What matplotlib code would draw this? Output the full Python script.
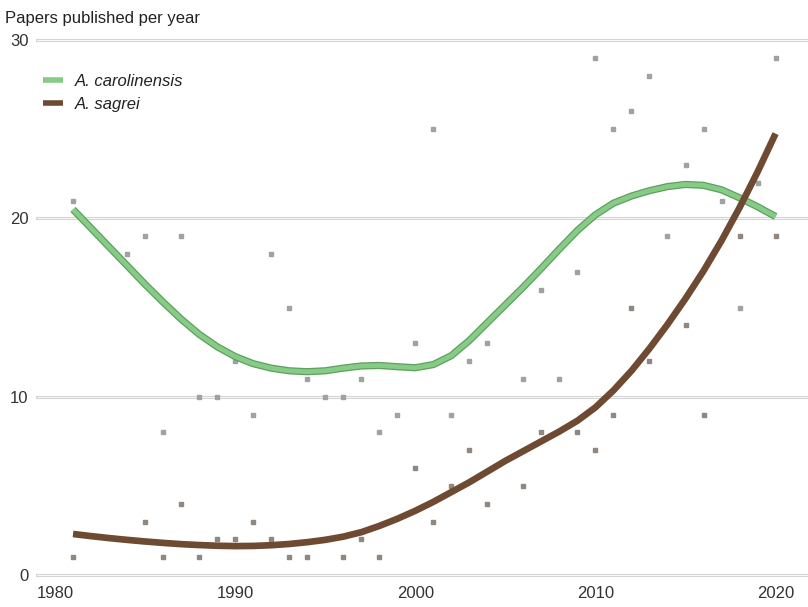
import matplotlib
matplotlib.use("Agg")
import matplotlib.pyplot as plt
import numpy as np

plt.rcParams["font.family"] = ["Liberation Sans", "DejaVu Sans"]

nan = np.nan
years = list(range(1981, 2021))

# yearly paper counts (scatter); nan where no point is shown
carolinensis_counts = [21, nan, nan, 18, 19, 8, 19, 10, 10, 12,
                       9, 18, 15, 11, 10, 10, 11, 8, 9, 13,
                       25, 9, 12, 13, nan, 11, 16, 11, 17, 29,
                       25, 26, 28, 19, 23, 25, 21, 15, 22, 29]
sagrei_counts = [1, nan, nan, nan, 3, 1, 4, 1, 2, 2,
                 3, 2, 1, 1, 2, 1, 2, 1, nan, 6,
                 3, 5, 7, 4, nan, 5, 8, nan, 8, 7,
                 9, 15, 12, nan, 14, 9, nan, 19, nan, 19]

# smoothed trend lines
carolinensis_trend = [20.5, 19.45, 18.4, 17.35, 16.3, 15.3, 14.35, 13.5, 12.8, 12.25,
                      11.85, 11.6, 11.45, 11.4, 11.45, 11.6, 11.72, 11.75, 11.68, 11.62,
                      11.8, 12.3, 13.15, 14.15, 15.15, 16.15, 17.2, 18.28, 19.32, 20.2,
                      20.85, 21.25, 21.55, 21.78, 21.9, 21.85, 21.6, 21.15, 20.65, 20.1]
sagrei_trend = [2.3, 2.18, 2.07, 1.97, 1.88, 1.8, 1.73, 1.68, 1.64, 1.62,
                1.63, 1.67, 1.74, 1.84, 1.97, 2.15, 2.4, 2.75, 3.15, 3.6,
                4.1, 4.65, 5.2, 5.8, 6.4, 6.95, 7.5, 8.05, 8.65, 9.4,
                10.35, 11.45, 12.7, 14.05, 15.5, 17.05, 18.75, 20.6, 22.6, 24.75]

x_ticks = [1980, 1990, 2000, 2010, 2020]
y_ticks = [0, 10, 20, 30]

fig = plt.figure(figsize=(8.08, 6.07), dpi=100)
ax = fig.add_axes([37 / 808, (607 - 575) / 607, 1 - 37 / 808, (575 - 40) / 607])

ax.set_xlim(1979.0, 2021.8)
ax.set_ylim(0, 30)

for yt in y_ticks:
    ax.axhline(yt, color="#d4d4d4", linewidth=2.2, zorder=0, clip_on=False)
    ax.axhline(yt, color="white", linewidth=0.6, zorder=0.1, clip_on=False)

ax.plot(years, carolinensis_counts, "s", color="#9da49b", markersize=2.3, zorder=2)
ax.plot(years, sagrei_counts, "s", color="#908780", markersize=2.3, zorder=2)

ax.plot(years, carolinensis_trend, color="#5f9f5f", linewidth=5.2, solid_capstyle="butt",
        solid_joinstyle="round", zorder=3)
ax.plot(years, carolinensis_trend, color="#86cc86", linewidth=3.4, solid_capstyle="butt",
        solid_joinstyle="round", zorder=3.1, label="A. carolinensis")
ax.plot(years, sagrei_trend, color="#6d4a31", linewidth=4.8, solid_capstyle="butt",
        solid_joinstyle="round", zorder=3.2, label="A. sagrei")

for side in ax.spines.values():
    side.set_visible(False)
ax.set_xticks(x_ticks)
ax.set_yticks(y_ticks)
ax.tick_params(length=0, labelsize=12, colors="#333333")
ax.tick_params(axis="y", pad=6)
ax.tick_params(axis="x", pad=8)
ax.set_xticklabels([str(t) for t in x_ticks], color="#333333")

fig.text(5 / 808, 1 - 18 / 607, "Papers published per year", fontsize=12,
         color="#222222", va="center", ha="left")

leg = ax.legend(loc="upper left", bbox_to_anchor=(-0.012, 0.964), frameon=False,
                handlelength=1.2, handletextpad=0.7, fontsize=12, labelspacing=0.45)
for t in leg.get_texts():
    t.set_style("italic")
    t.set_color("#222222")
for h in leg.get_lines():
    h.set_linewidth(4)

fig.savefig("out.png", dpi=100)
